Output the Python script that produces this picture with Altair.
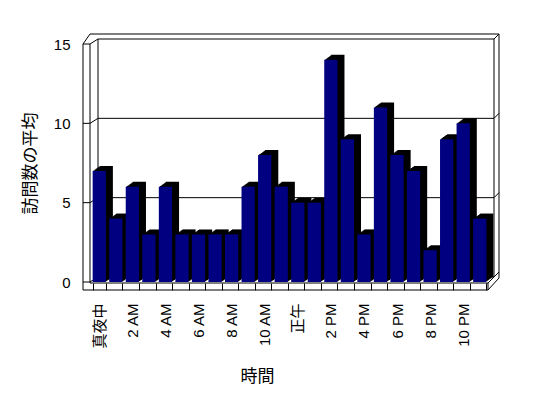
import json
import altair as alt
import pandas as pd

# ---- data -------------------------------------------------------------
hours = list(range(24))
visits = [7, 4, 6, 3, 6, 3, 3, 3, 3, 6, 8, 6, 5, 5, 14, 9, 3, 11, 8, 7, 2, 9, 10, 4]
hour_labels = ["真夜中", "", "2 AM", "", "4 AM", "", "6 AM", "", "8 AM", "", "10 AM", "",
               "正午", "", "2 PM", "", "4 PM", "", "6 PM", "", "8 PM", "", "10 PM", ""]
grid_values = [0, 5, 10, 15]

x_title = "時間"
y_title = "訪問数の平均"

df = pd.DataFrame({"hour": hours, "visits": visits})
grid_df = pd.DataFrame({"visits": grid_values})

W, H = 397, 238
DX, DY = 7, -5          # depth offset of the 3D box
LAT = "Liberation Sans, Arial, 'Noto Sans CJK JP'"
CJK = "'Noto Sans CJK JP', 'Noto Sans CJK SC'"

y_axis = alt.Axis(
    values=grid_values, title=y_title, grid=False, domain=False, ticks=False,
    labelPadding=21, labelFont=LAT, labelFontSize=15, labelColor="black",
    titleFont=CJK, titleFontSize=17, titleFontWeight="normal", titleColor="black",
    titleAngle=270, titleX=-61, titleY=119, titleAlign="center", titleBaseline="middle",
)
y_scale = alt.Scale(domain=[0, 15], nice=False)

x_axis = alt.Axis(
    title=x_title, domain=False, ticks=True, tickBand="extent", tickSize=7,
    tickColor="black", offset=1, labelAngle=270, labelAlign="right",
    labelBaseline="middle", labelPadding=13, labelOverlap=False, labelLimit=200,
    labelExpr=json.dumps(hour_labels, ensure_ascii=False) + "[datum.value]",
    labelFont=LAT, labelFontSize=15, labelColor="black",
    titleFont=CJK, titleFontSize=17, titleFontWeight="normal", titleColor="black",
    titleX=166, titleY=93, titleAlign="center", titleBaseline="middle",
)
x_scale = alt.Scale(paddingInner=0.2, paddingOuter=0.1)

one = alt.Data(values=[{"k": 0}])


def seg(x1, y1, x2, y2):
    return alt.Chart(one).mark_rule(color="black", strokeWidth=1).encode(
        x=alt.value(x1), y=alt.value(y1), x2=alt.value(x2), y2=alt.value(y2)
    )


frame = [
    seg(-8, 0, -8, 246),
    seg(-1, 0, -1, 239),
    seg(DX, DY, DX, H + DY),
    seg(-8, 0, -1, -10),
    seg(-1, -10, W + 11, -10),
    seg(W + 11, -10, W + 11, H - 4),
    seg(W + 6, DY, W + 6, H + DY),
    seg(-8, 246, W, 246),
    seg(-1, 239, W, 239),
    seg(W, 239, W, 246),
    seg(W, 246, W + 11, H - 4),
    seg(W, 239, W + 6, H + DY),
]

g = alt.Chart(grid_df)
grid_front = g.mark_rule(color="black").encode(
    y=alt.Y("visits:Q", scale=y_scale, axis=y_axis), x=alt.value(-8), x2=alt.value(-1))
grid_diag = g.mark_rule(color="black", y2Offset=DY).encode(
    y=alt.Y("visits:Q", scale=y_scale, axis=y_axis), y2="visits:Q",
    x=alt.value(-1), x2=alt.value(DX))
grid_back = g.mark_rule(color="black", yOffset=DY).encode(
    y=alt.Y("visits:Q", scale=y_scale, axis=y_axis), x=alt.value(DX), x2=alt.value(W + 6))
grid_right = g.mark_rule(color="black", yOffset=DY, y2Offset=-10).encode(
    y=alt.Y("visits:Q", scale=y_scale, axis=y_axis), y2="visits:Q",
    x=alt.value(W + 6), x2=alt.value(W + 11))

base = alt.Chart(df)
# extruded depth of each column (black side and top), drawn as stacked offsets
shadows = [
    base.mark_bar(color="black", xOffset=k, yOffset=round(DY * k / DX, 1)).encode(
        x=alt.X("hour:O", scale=x_scale, axis=x_axis),
        y=alt.Y("visits:Q", scale=y_scale, axis=y_axis),
    )
    for k in range(1, DX + 1)
]
front = base.mark_bar(color="#000080").encode(
    x=alt.X("hour:O", scale=x_scale, axis=x_axis),
    y=alt.Y("visits:Q", scale=y_scale, axis=y_axis),
)

chart = alt.layer(
    *frame, grid_front, grid_diag, grid_back, grid_right, *shadows, front
).properties(
    width=W, height=H,
    autosize=alt.AutoSizeParams(type="none"),
    padding={"left": 83, "top": 36, "right": 52, "bottom": 108},
    background="white",
).configure_view(stroke="transparent")

chart.save("out.html", embed_options={"renderer": "svg", "actions": False})
